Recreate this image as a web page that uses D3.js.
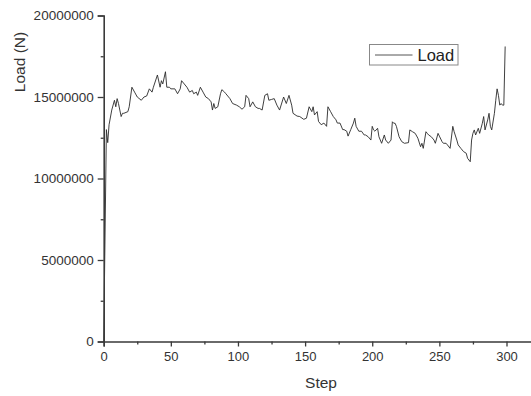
<!DOCTYPE html>
<html>
<head>
<meta charset="utf-8">
<script src="https://cdn.jsdelivr.net/npm/d3@7"></script>
<style>
  html, body { margin: 0; padding: 0; background: #fff; }
  svg { display: block; font-family: Arial, "Liberation Sans", sans-serif; }
</style>
</head>
<body>
<svg id="chart" width="531" height="396"></svg>
<script>
// ---- data ----
const steps = [
  0,2,3,4,6,8,9,10,11,13,
  14,15,18,19,21,23,25,28,30,32,
  34,36,37,40,42,43,44,46,47,49,
  50,53,55,57,58,60,62,64,66,67,
  69,70,72,74,76,78,80,81,82,83,
  85,87,88,90,91,94,96,99,101,103,
  105,106,108,109,111,113,115,116,118,120,
  122,123,125,127,129,131,134,136,138,140,
  141,144,146,149,151,153,155,156,157,159,
  160,162,164,166,167,169,171,173,174,176,
  178,179,181,182,184,186,187,188,190,192,
  194,195,197,199,200,201,202,204,205,207,
  209,210,212,214,215,216,217,218,220,222,
  224,227,228,230,232,234,236,237,238,240,
  241,242,244,246,247,249,250,252,253,255,
  256,258,260,261,263,264,266,268,270,271,
  273,274,275,276,277,279,280,282,283,284,
  286,287,288,289,291,292,293,294,295,296,
  297,298,299
];
// Load in millions of N
const loadMillions = [
  0,13.0,12.2,13.3,14.2,14.8,14.4,14.9,14.6,13.8,
  14.0,14.0,14.1,14.4,15.6,15.3,15.0,14.8,15.0,15.06,
  15.5,15.3,15.6,16.35,15.6,16.0,15.8,16.55,15.6,15.6,
  15.5,15.5,15.2,15.5,16.0,15.8,15.6,15.3,15.4,15.2,
  15.3,15.1,15.6,15.3,15.0,14.9,14.7,14.2,14.6,14.3,
  14.4,15.2,15.45,15.3,15.2,14.9,14.6,14.5,14.4,14.25,
  14.4,15.1,14.9,14.4,14.7,14.4,14.3,14.3,14.2,15.1,
  15.2,14.8,14.85,14.9,14.5,14.2,15.0,14.6,15.1,14.5,
  14.0,13.83,13.8,13.63,13.7,14.4,14.1,14.4,13.9,14.1,
  13.5,13.3,13.4,13.2,14.4,14.1,13.8,13.6,13.4,13.4,
  13.0,13.0,12.9,12.6,13.0,13.4,13.7,13.2,12.9,12.9,
  12.67,12.67,12.56,12.36,13.2,12.98,12.9,13.08,12.56,12.16,
  12.67,12.36,12.16,12.36,13.48,13.39,13.39,13.2,12.56,12.26,
  12.16,12.2,12.98,12.87,12.77,12.47,11.95,12.16,11.85,12.87,
  12.77,12.67,12.56,12.36,12.16,12.77,12.6,12.26,12.16,12.16,
  12.06,11.85,13.2,12.87,12.36,12.06,11.85,11.65,11.55,11.24,
  11.03,12.36,12.77,12.98,12.67,13.08,12.77,13.39,13.8,12.98,
  13.59,14.0,13.2,12.98,14.0,14.8,15.5,15.1,14.5,14.6,
  14.5,14.5,18.1
];
const xTicks = [0, 50, 100, 150, 200, 250, 300];
const xMinorTicks = [25, 75, 125, 175, 225, 275];
const yTicks = [0, 5000000, 10000000, 15000000, 20000000];
const yMinorTicks = [2500000, 7500000, 12500000, 17500000];
const xTitle = "Step";
const yTitle = "Load (N)";
const seriesName = "Load";

// ---- drawing ----
const svg = d3.select("#chart");
const x0 = 103.7, pxPerStep = (506.5 - 103.7) / 300;
const x = d3.scaleLinear().domain([0, 320]).range([x0, x0 + 320 * pxPerStep]);
const y = d3.scaleLinear().domain([0, 20000000]).range([341.5, 15.5]);

const axisColor = "#3a3a3a";
const data = steps.map((s, i) => ({ s, v: loadMillions[i] * 1e6 }));

// line
const line = d3.line().x(d => x(d.s)).y(d => y(d.v));
svg.append("path")
  .datum(data)
  .attr("fill", "none")
  .attr("stroke", "#2a2a2a")
  .attr("stroke-width", 0.9)
  .attr("stroke-linejoin", "round")
  .attr("d", line);

// x axis
const gx = svg.append("g").attr("transform", `translate(0,${y(0)})`);
gx.call(d3.axisBottom(x).tickValues(xTicks).tickSize(5).tickPadding(5).tickFormat(d3.format("d")));
gx.append("g").call(d3.axisBottom(x).tickValues(xMinorTicks).tickSize(3).tickFormat(""))
  .select(".domain").remove();
gx.selectAll(".domain").attr("stroke", axisColor).attr("stroke-width", 1.6);
gx.selectAll(".tick line").attr("stroke", axisColor).attr("stroke-width", 1.3);
gx.selectAll(".tick text").attr("fill", "#333").attr("font-size", 13).attr("font-family", "Arial, 'Liberation Sans', sans-serif");

// y axis
const gy = svg.append("g").attr("transform", `translate(${x0},0)`);
gy.call(d3.axisLeft(y).tickValues(yTicks).tickSize(6).tickPadding(4).tickFormat(d3.format("d")));
gy.append("g").call(d3.axisLeft(y).tickValues(yMinorTicks).tickSize(3).tickFormat(""))
  .select(".domain").remove();
gy.selectAll(".domain").attr("stroke", axisColor).attr("stroke-width", 1.6);
gy.selectAll(".tick line").attr("stroke", axisColor).attr("stroke-width", 1.3);
gy.selectAll(".tick text").attr("fill", "#333").attr("font-size", 13.5).attr("font-family", "Arial, 'Liberation Sans', sans-serif");

// axis titles
svg.append("text")
  .attr("x", 321).attr("y", 388)
  .attr("text-anchor", "middle")
  .attr("font-size", 15.5).attr("fill", "#333")
  .text(xTitle);
svg.append("text")
  .attr("transform", "translate(25,62) rotate(-90)")
  .attr("text-anchor", "middle")
  .attr("font-size", 15.5).attr("fill", "#333")
  .text(yTitle);

// legend
const lg = svg.append("g");
lg.append("rect")
  .attr("x", 369.5).attr("y", 44.5).attr("width", 88.5).attr("height", 20.5)
  .attr("fill", "#fff").attr("stroke", "#888").attr("stroke-width", 1);
lg.append("line")
  .attr("x1", 375).attr("x2", 412.5).attr("y1", 55).attr("y2", 55)
  .attr("stroke", "#555").attr("stroke-width", 1);
lg.append("text")
  .attr("x", 417.5).attr("y", 61)
  .attr("font-size", 16.5).attr("fill", "#222")
  .text(seriesName);
</script>
</body>
</html>
